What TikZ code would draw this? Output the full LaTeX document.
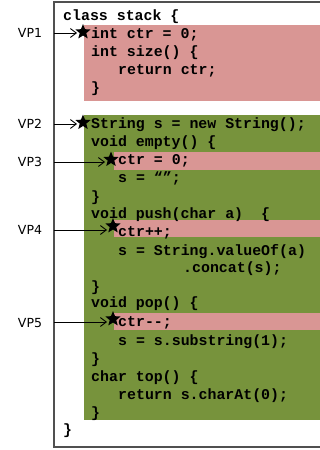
\documentclass[tikz,border=0pt]{standalone}
\usepackage{fontspec}
\newfontfamily\codefont{Liberation Mono}
\newfontfamily\vpfont{DejaVu Sans}
\usetikzlibrary{arrows.meta}
\usetikzlibrary{shapes.geometric}
\tikzset{>={Straight Barb[length=6pt,width=9pt]}}
\definecolor{blockpink}{RGB}{217,150,148}
\definecolor{blockgreen}{RGB}{119,147,60}
\definecolor{framegray}{RGB}{80,80,80}
\tikzstyle{codeline}=[anchor=base west,inner sep=0pt,font=\codefont\bfseries\fontsize{14.9}{16}\selectfont]
\tikzstyle{vplabel}=[inner sep=0pt,font=\vpfont\fontsize{12.5}{14}\selectfont]
\tikzstyle{vpstar}=[star,star points=5,star point ratio=2.3,minimum size=16pt,inner sep=0pt,fill=black]
\tikzstyle{vparrow}=[->,draw=black,line width=0.9pt]

\begin{document}
\begin{tikzpicture}[x=1pt,y=-1pt]
    \useasboundingbox (0,0) rectangle (320,450);
    \fill[white] (0,0) rectangle (320,450);

    % coloured regions
    \fill[blockpink] (84,25) rectangle (330,101);
    \fill[blockgreen] (84,115) rectangle (330,420);
    \fill[blockpink] (114,152) rectangle (330,170);
    \fill[blockpink] (114,220) rectangle (330,237);
    \fill[blockpink] (114,313) rectangle (330,330);
    \draw[framegray,line width=1.3pt] (54,2) rectangle (330,447);

    % the class
    \node[codeline] (c1) at (63,20.5) {class stack \{};
    \node[codeline] (c2) at (91,38.5) {int ctr = 0;};
    \node[codeline] (c3) at (91,56.5) {int size() \{};
    \node[codeline] (c4) at (118,74) {return ctr;};
    \node[codeline] (c5) at (91,92.5) {\}};
    \node[codeline] (c6) at (91,128.5) {String s = new String();};
    \node[codeline] (c7) at (91,146.5) {void empty() \{};
    \node[codeline] (c8) at (118,164.5) {ctr = 0;};
    \node[codeline] (c9) at (118,182.5) {s = “”;};
    \node[codeline] (c10) at (91,201) {\}};
    \node[codeline] (c11) at (91,218.5) {void push(char a)\ \ \{};
    \node[codeline] (c12) at (118,236) {ctr++;};
    \node[codeline] (c13) at (118,255) {s = String.valueOf(a)};
    \node[codeline] (c14) at (183,272.5) {.concat(s);};
    \node[codeline] (c15) at (91,291) {\}};
    \node[codeline] (c16) at (91,307.5) {void pop() \{};
    \node[codeline] (c17) at (118,326) {ctr-{}-;};
    \node[codeline] (c18) at (118,345.5) {s = s.substring(1);};
    \node[codeline] (c19) at (91,363.5) {\}};
    \node[codeline] (c20) at (91,381.5) {char top() \{};
    \node[codeline] (c21) at (118,399.5) {return s.charAt(0);};
    \node[codeline] (c22) at (91,417) {\}};
    \node[codeline] (c23) at (63,434.5) {\}};

    % visit points
    \node[vplabel] (vp1) at (30,33) {VP1};
    \node[vplabel] (vp2) at (30,124) {VP2};
    \node[vplabel] (vp3) at (30,162) {VP3};
    \node[vplabel] (vp4) at (30,230) {VP4};
    \node[vplabel] (vp5) at (30,323) {VP5};
    \node[vpstar] (st1) at (83,32) {};
    \node[vpstar] (st2) at (83,122.5) {};
    \node[vpstar] (st3) at (111,159.5) {};
    \node[vpstar] (st4) at (113,226) {};
    \node[vpstar] (st5) at (113,319) {};
    \coordinate (e1) at (54,33);
    \coordinate (e2) at (54,124);
    \coordinate (e3) at (54,162);
    \coordinate (e4) at (54,230);
    \coordinate (e5) at (54,322);
    \foreach \i in {1,...,5}{
    	\draw[vparrow,shorten >=1pt] (e\i) -- (e\i -| st\i.west);
    }
\end{tikzpicture}
\end{document}
